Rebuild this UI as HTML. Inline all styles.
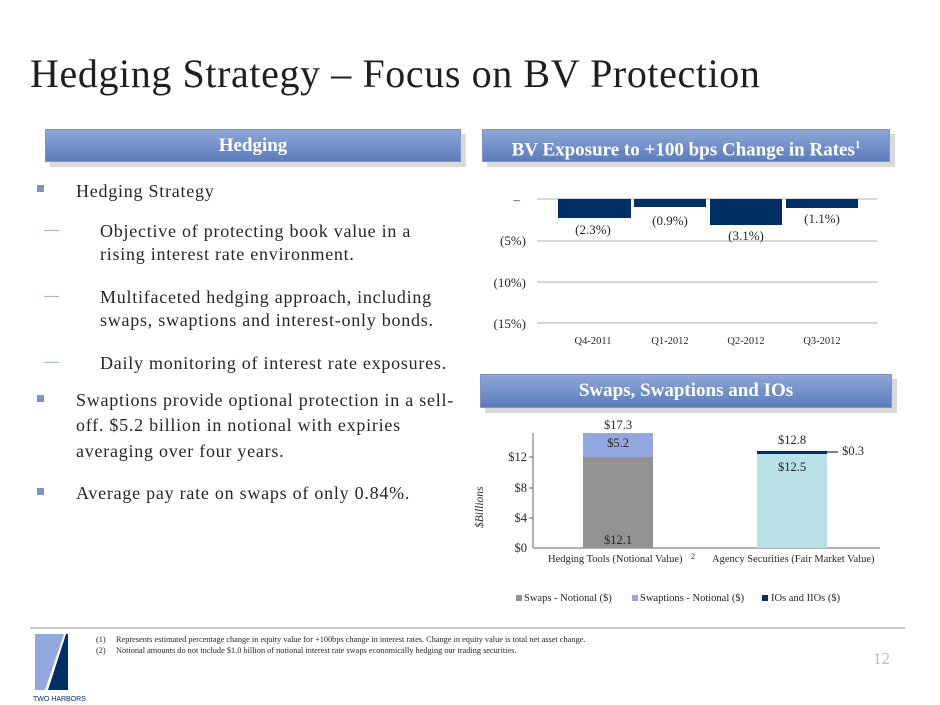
<!DOCTYPE html>
<html><head><meta charset="utf-8"><style>
body{margin:0;width:940px;height:705px;background:#fff;position:relative;overflow:hidden;font-family:"Liberation Serif",serif;color:#262626}
.a{position:absolute}
.ban{position:absolute;background:linear-gradient(#8ea6d6,#5b7cbc);color:#fff;font-weight:bold;font-size:19px;text-align:center;box-shadow:5px 5px 0 #d9d9d9;border:1px solid #7f95c4}
.l{position:absolute;font-size:18px;letter-spacing:0.75px;white-space:nowrap;line-height:1}
.sq{position:absolute;width:7px;height:7px;background:#7f95c4}
.d{position:absolute;font-size:15px;color:#7f95c4}
</style></head><body>
<div class="a" style="left:30px;top:50px;font-size:40px;letter-spacing:0.6px;color:#1f1f1f;white-space:nowrap">Hedging Strategy – Focus on BV Protection</div>
<div class="ban" style="left:45px;top:129px;width:414px;height:31px;line-height:31px">Hedging</div>
<div class="ban" style="left:482px;top:129px;width:406px;height:31px;line-height:31px">BV Exposure to +100 bps Change in Rates<sup style="font-size:11px">1</sup></div>
<div class="ban" style="left:480px;top:374px;width:410px;height:32px;line-height:32px">Swaps, Swaptions and IOs</div>

<div class="sq" style="left:37px;top:185px"></div><div class="l" style="left:76px;top:182px">Hedging Strategy</div>
<div class="d" style="left:44px;top:222px">—</div>
<div class="l" style="left:100px;top:222px">Objective of protecting book value in a</div>
<div class="l" style="left:100px;top:245px">rising interest rate environment.</div>
<div class="d" style="left:44px;top:288px">—</div>
<div class="l" style="left:100px;top:288px">Multifaceted hedging approach, including</div>
<div class="l" style="left:100px;top:311px">swaps, swaptions and interest-only bonds.</div>
<div class="d" style="left:44px;top:354px">—</div>
<div class="l" style="left:100px;top:354px">Daily monitoring of interest rate exposures.</div>
<div class="sq" style="left:37px;top:395px"></div>
<div class="l" style="left:76px;top:391px">Swaptions provide optional protection in a sell-</div>
<div class="l" style="left:76px;top:416px">off. $5.2 billion in notional with expiries</div>
<div class="l" style="left:76px;top:442px">averaging over four years.</div>
<div class="sq" style="left:37px;top:488px"></div>
<div class="l" style="left:76px;top:484px">Average pay rate on swaps of only 0.84%.</div>

<svg class="a" style="left:0;top:0" width="940" height="705">
<g stroke="#bfbfbf" stroke-width="1.3">
<line x1="537" y1="199" x2="878" y2="199"/><line x1="537" y1="241" x2="878" y2="241"/>
<line x1="537" y1="282" x2="878" y2="282"/><line x1="537" y1="323" x2="878" y2="323"/></g>
<g fill="#002f66"><rect x="558" y="199" width="73" height="19"/><rect x="634" y="199" width="72" height="8"/>
<rect x="710" y="199" width="72" height="26"/><rect x="786" y="199" width="72" height="9"/></g>
<g font-size="13" font-family="Liberation Serif" fill="#262626" text-anchor="end">
<text x="520" y="204">–</text><text x="526" y="245">(5%)</text><text x="526" y="287">(10%)</text><text x="526" y="328">(15%)</text></g>
<g font-size="13" font-family="Liberation Serif" fill="#262626" text-anchor="middle">
<text x="593" y="234">(2.3%)</text><text x="670" y="225">(0.9%)</text><text x="746" y="240">(3.1%)</text><text x="822" y="223">(1.1%)</text></g>
<g font-size="10.5" font-family="Liberation Serif" fill="#262626" text-anchor="middle">
<text x="593" y="344">Q4-2011</text><text x="670" y="344">Q1-2012</text><text x="746" y="344">Q2-2012</text><text x="822" y="344">Q3-2012</text></g>

<line x1="533" y1="433" x2="533" y2="548" stroke="#666"/>
<line x1="533" y1="548" x2="880" y2="548" stroke="#666"/>
<g stroke="#666"><line x1="529" y1="457" x2="533" y2="457"/><line x1="529" y1="488" x2="533" y2="488"/><line x1="529" y1="518" x2="533" y2="518"/></g>
<rect x="583" y="457" width="70" height="91" fill="#939393"/>
<rect x="583" y="433" width="70" height="24" fill="#92a8de"/>
<rect x="757" y="454" width="70" height="94" fill="#b7e1e4"/>
<rect x="757" y="451" width="70" height="3" fill="#002f66"/>
<line x1="827" y1="452" x2="838" y2="452" stroke="#000"/>
<g font-size="12.5" font-family="Liberation Serif" fill="#262626" text-anchor="end">
<text x="527" y="461">$12</text><text x="527" y="492">$8</text><text x="527" y="522">$4</text><text x="527" y="552">$0</text></g>
<text x="0" y="0" transform="translate(483,528) rotate(-90)" font-size="11.5" font-style="italic" font-family="Liberation Serif" fill="#262626">$Billions</text>
<g font-size="12.5" font-family="Liberation Serif" fill="#262626" text-anchor="middle">
<text x="618" y="429">$17.3</text><text x="618" y="447">$5.2</text><text x="618" y="544">$12.1</text>
<text x="792" y="444">$12.8</text><text x="792" y="471">$12.5</text><text x="853" y="455">$0.3</text></g>
<g font-size="10.5" font-family="Liberation Serif" fill="#262626">
<text x="548" y="562">Hedging Tools (Notional Value)</text><text x="691" y="559" font-size="8">2</text>
<text x="712" y="562">Agency Securities (Fair Market Value)</text>
<rect x="516" y="595" width="6" height="6" fill="#939393"/><text x="524" y="601">Swaps - Notional ($)</text>
<rect x="632" y="595" width="6" height="6" fill="#92a8de"/><text x="640" y="601">Swaptions - Notional ($)</text>
<rect x="762" y="595" width="6" height="6" fill="#002f66"/><text x="771" y="601">IOs and IIOs ($)</text></g>

<line x1="30" y1="628" x2="905" y2="628" stroke="#c8c8c8" stroke-width="2"/>
<polygon points="35,634 64,634 45,690 35,690" fill="#92a8de"/>
<polygon points="66,634 68,634 68,690 48,690" fill="#002f66"/>
<text x="33" y="701" font-size="7" font-family="Liberation Sans" fill="#002f66">TWO HARBORS</text>
<g font-size="8.3" font-family="Liberation Serif" fill="#262626">
<text x="96" y="642">(1)</text><text x="116" y="642">Represents estimated percentage change in equity value for +100bps change in interest rates. Change in equity value is total net asset change.</text>
<text x="96" y="653">(2)</text><text x="116" y="653">Notional amounts do not include $1.0 billion of notional interest rate swaps economically hedging our trading securities.</text></g>
<text x="890" y="664" font-size="17" font-family="Liberation Serif" fill="#bfbfbf" text-anchor="end">12</text>
</svg>
</body></html>
